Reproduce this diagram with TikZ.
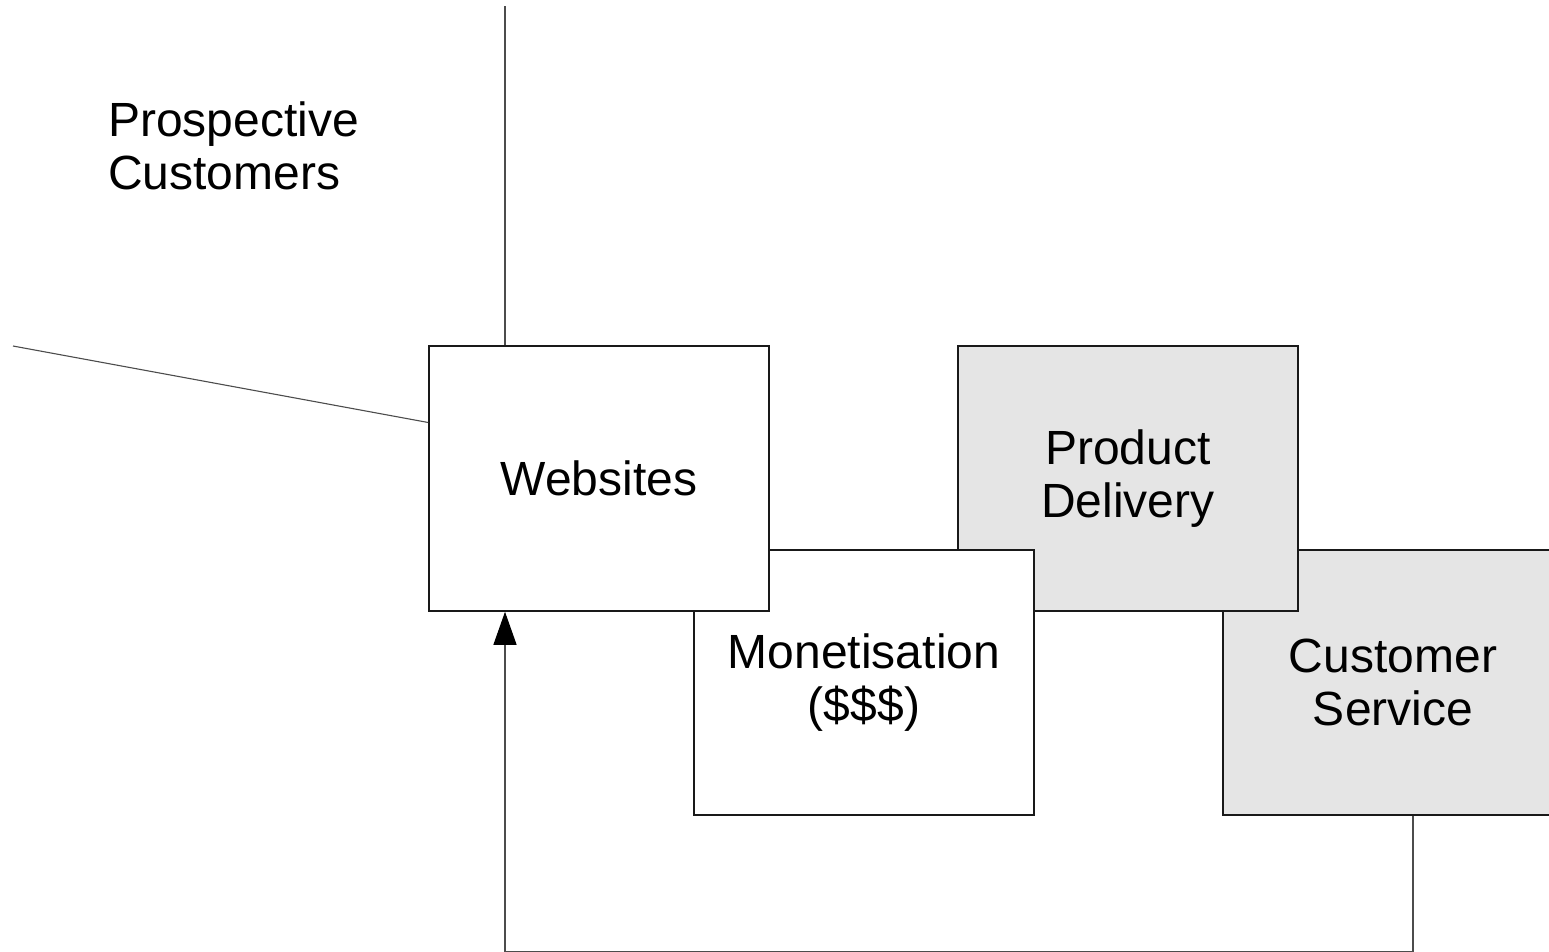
\documentclass[tikz,border=0pt]{standalone}
\usepackage{fontspec}
\setmainfont{Liberation Sans}
\usetikzlibrary{arrows.meta,positioning}

\begin{document}
\begin{tikzpicture}[
    x=1pt, y=-1pt,
    >={Triangle[length=33pt, width=23pt, color=black]},
    blk/.style={rectangle, draw=black!90, line width=1.5pt, align=center, minimum width=340pt, minimum height=265pt, inner sep=0pt},
    shaded/.style={blk, fill=black!10},
    plain/.style={blk, fill=white},
    big/.style={font=\fontsize{48}{53}\selectfont},
    conn/.style={draw=black!70, line width=1.1pt}
]
% Marco de la figura
\useasboundingbox (0,0) rectangle (1549,951);
\clip (0,0) rectangle (1549,951);
% Cajas (orden de dibujo: las de atras primero)
\node[shaded, big] (cs) at (1393,682.5) {Customer\\Service};
\node[shaded, big] (del) at (1128,478.5) {Product\\Delivery};
\node[plain, big] (mon) at (864,682.5) {Monetisation\\(\$\$\$)};
\node[plain, big] (web) at (599,478.5) {Websites};
% Texto suelto arriba a la izquierda
\node[big, align=left, anchor=west, inner sep=0pt] (pros) at (108,146) {Prospective\\Customers};

% Puntos libres de las conexiones
\coordinate (top) at (505,6);
\coordinate (lft) at (13,346);
\coordinate (ret) at (505,951.3);

% Conexiones
\draw[conn] (top) -- ([xshift=-94pt]web.north);
\draw[conn] (lft) -- ([yshift=56pt]web.west);
\draw[conn, ->] ([xshift=20pt]cs.south) |- (ret) -- ([xshift=-94pt]web.south); % retorno por abajo
\end{tikzpicture}
\end{document}
